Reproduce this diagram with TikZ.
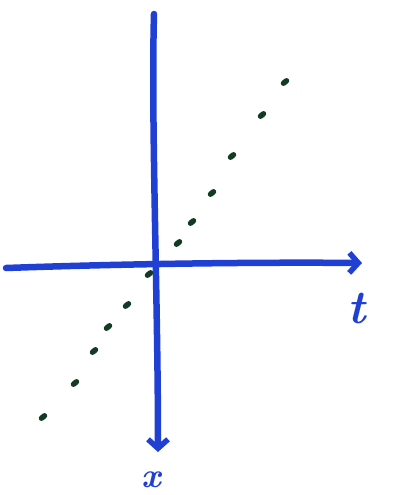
\documentclass[tikz,border=0pt]{standalone}
\usepackage{tikz}
\usetikzlibrary{arrows.meta, calc}
\definecolor{penblue}{RGB}{32, 64, 212}
\definecolor{pengreen}{RGB}{18, 58, 36}

\begin{document}
\begin{tikzpicture}[x=1pt, y=-1pt,
  axis/.style={penblue, line width=6.5pt, line cap=round, -{Straight Barb[length=9pt, width=20pt, line width=5.5pt]}},
  dashmark/.style={pengreen, line width=5.5pt, line cap=round},
  handlabel/.style={penblue, font=\Huge\bfseries\itshape}
]
  \useasboundingbox (0,0) rectangle (393,495);

  % axes
  \coordinate (hstart) at (6,268);
  \coordinate (hend) at (362,263);
  \coordinate (vstart) at (154,14);
  \coordinate (vend) at (158,452);
  \draw[axis] (hstart) .. controls (120,264) and (250,262) .. (hend);
  \draw[axis] (vstart) .. controls (151,120) and (158,300) .. (vend);

  % dotted line through the origin
  \foreach \px/\py in {285/82, 262/115, 232/156, 212/193, 192/222, 178/243,
                       149/274, 127/305, 108/327, 94/351, 75/383, 43/417}
    \draw[dashmark] ($(\px,\py)+(-1.5,1.2)$) -- ($(\px,\py)+(1.5,-1.2)$);

  % labels
  \node[handlabel, scale=1.9] (tlabel) at (357,308) {t};
  \node[handlabel, scale=1.4, inner sep=0pt] (xlabel) at (151,480) {x};
\end{tikzpicture}
\end{document}
